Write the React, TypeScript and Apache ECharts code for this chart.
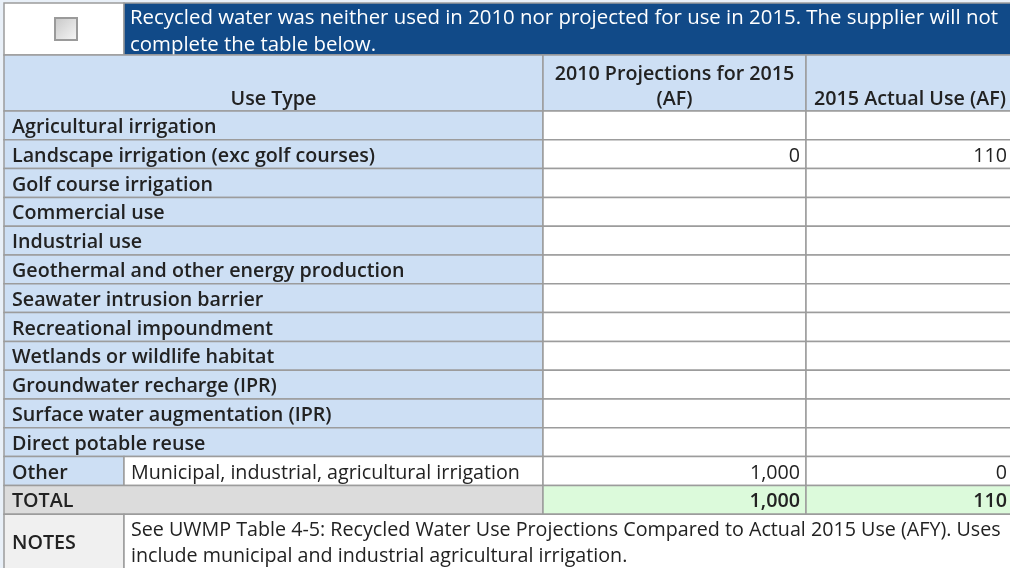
import React, { useEffect, useRef } from "react";
import * as echarts from "echarts";

const bannerText = [
  "Recycled water was neither used in 2010 nor projected for use in 2015. The supplier will not",
  "complete the table below.",
];
const colHeaders = ["Use Type", "2010 Projections for 2015\n(AF)", "2015 Actual Use (AF)"];
const useTypes = [
  "Agricultural irrigation",
  "Landscape irrigation (exc golf courses)",
  "Golf course irrigation",
  "Commercial use",
  "Industrial use",
  "Geothermal and other energy production",
  "Seawater intrusion barrier",
  "Recreational impoundment",
  "Wetlands or wildlife habitat",
  "Groundwater recharge (IPR)",
  "Surface water augmentation (IPR)",
  "Direct potable reuse",
];
const projections2010: (number | null)[] = [null, 0, null, null, null, null, null, null, null, null, null, null];
const actual2015: (number | null)[] = [null, 110, null, null, null, null, null, null, null, null, null, null];
const otherLabel = "Other";
const otherDesc = "Municipal, industrial, agricultural irrigation";
const otherProjection = 1000;
const otherActual = 0;
const totalLabel = "TOTAL";
const totalProjection = 1000;
const totalActual = 110;
const notesLabel = "NOTES";
const notesText = [
  "See UWMP Table 4-5: Recycled Water Use Projections Compared to Actual 2015 Use (AFY). Uses",
  "include municipal and industrial agricultural irrigation.",
];

const fmt = (v: number | null) => (v === null ? "" : v.toLocaleString("en-US"));

export default function App() {
  const ref = useRef<HTMLDivElement>(null);
  useEffect(() => {
    if (!ref.current) return;
    const chart = echarts.init(ref.current, null, { renderer: "svg" });
    const X0 = 4, X1 = 124, X2 = 543, X3 = 806, X4 = 1016;
    const Y0 = 3, Y1 = 55, Y2 = 111;
    const RH = 28.8;
    const BORDER = "#9c9c9c";
    const LIGHT = "#cddff4";
    const DARK = "#114a88";
    const TXT = "#222222";
    const font = "'Open Sans', sans-serif";
    const FS = 19.7;
    const els: any[] = [];
    const rect = (x: number, y: number, w: number, h: number, fill: string) =>
      els.push({ type: "rect", shape: { x, y, width: w, height: h }, style: { fill, stroke: BORDER, lineWidth: 1.5 } });
    const text = (x: number, y: number, t: string, opts: any = {}) =>
      els.push({
        type: "text",
        x,
        y,
        style: {
          text: t,
          fill: opts.fill || TXT,
          font: `${opts.weight || "normal"} ${opts.size || FS}px ${font}`,
          align: opts.align || "left",
          verticalAlign: "middle",
          lineHeight: opts.lineHeight || 25,
        },
      });

    els.push({ type: "rect", shape: { x: 0, y: 0, width: 1010, height: 568 }, style: { fill: "#e9f0f8" } });

    // banner
    rect(X0, Y0, X1 - X0, Y1 - Y0, "#ffffff");
    rect(X1, Y0, X4 - X1, Y1 - Y0, DARK);
    els.push({
      type: "rect",
      shape: { x: 55, y: 18, width: 22, height: 22 },
      style: {
        fill: new echarts.graphic.LinearGradient(0, 0, 1, 1, [
          { offset: 0, color: "#c8c8c8" },
          { offset: 1, color: "#f6f6f6" },
        ]),
        stroke: "#9a9a9a",
        lineWidth: 2,
      },
    });
    text(130, 29.5, bannerText.join("\n"), { fill: "#ffffff", size: 20.4, lineHeight: 27 });

    // column headers
    rect(X0, Y1, X2 - X0, Y2 - Y1, LIGHT);
    rect(X2, Y1, X3 - X2, Y2 - Y1, LIGHT);
    rect(X3, Y1, X4 - X3, Y2 - Y1, LIGHT);
    text((X0 + X2) / 2, 97, colHeaders[0], { align: "center", weight: 600 });
    text((X2 + X3) / 2, 84.5, colHeaders[1], { align: "center", weight: 600 });
    text(1006, 97, colHeaders[2], { align: "right", weight: 600 });

    // body rows
    useTypes.forEach((u, i) => {
      const y = Y2 + i * RH;
      rect(X0, y, X2 - X0, RH, LIGHT);
      rect(X2, y, X3 - X2, RH, "#ffffff");
      rect(X3, y, X4 - X3, RH, "#ffffff");
      text(12, y + RH / 2, u, { weight: 600 });
      text(X3 - 6, y + RH / 2, fmt(projections2010[i]), { align: "right" });
      text(1007, y + RH / 2, fmt(actual2015[i]), { align: "right" });
    });
    // other row
    let y = Y2 + useTypes.length * RH;
    rect(X0, y, X1 - X0, RH, LIGHT);
    rect(X1, y, X2 - X1, RH, "#ffffff");
    rect(X2, y, X3 - X2, RH, "#ffffff");
    rect(X3, y, X4 - X3, RH, "#ffffff");
    text(12, y + RH / 2, otherLabel, { weight: 600 });
    text(131, y + RH / 2, otherDesc);
    text(X3 - 6, y + RH / 2, fmt(otherProjection), { align: "right" });
    text(1007, y + RH / 2, fmt(otherActual), { align: "right" });
    // total row
    y += RH;
    rect(X0, y, X2 - X0, RH, "#dcdcdc");
    rect(X2, y, X3 - X2, RH, "#dcfadb");
    rect(X3, y, X4 - X3, RH, "#dcfadb");
    text(12, y + RH / 2, totalLabel, { weight: 600 });
    text(X3 - 6, y + RH / 2, fmt(totalProjection), { align: "right", weight: 600 });
    text(1007, y + RH / 2, fmt(totalActual), { align: "right", weight: 600 });
    // notes row
    y += RH;
    rect(X0, y, X1 - X0, 80, "#f0f0f0");
    rect(X1, y, X4 - X1, 80, "#ffffff");
    text(12, 541, notesLabel, { weight: 600 });
    text(131, 541, notesText.join("\n"), { lineHeight: 26 });

    chart.setOption({ animation: false, graphic: { elements: els } });
    return () => chart.dispose();
  }, []);
  return <div ref={ref} style={{ width: 1010, height: 568, position: "fixed", left: 0, top: 0 }} />;
}
